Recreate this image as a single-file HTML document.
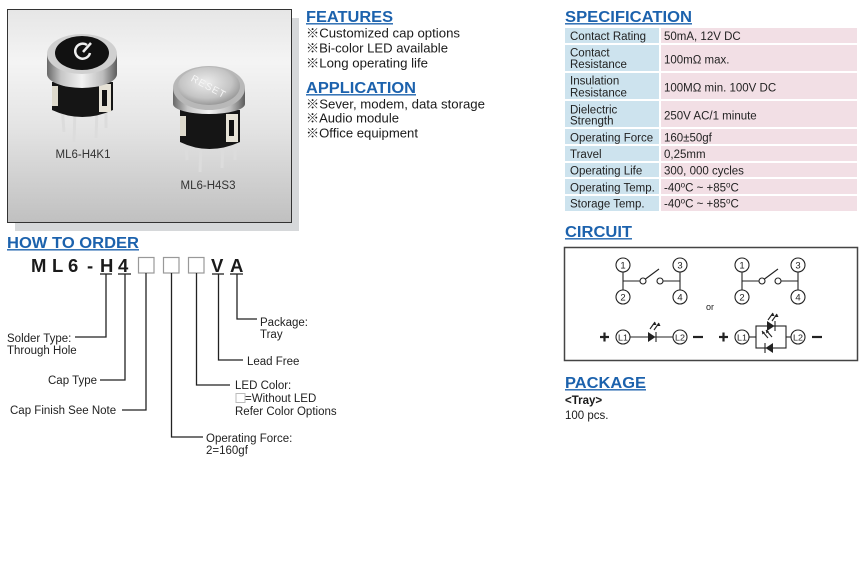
<!DOCTYPE html>
<html><head><meta charset="utf-8">
<style>
html,body{margin:0;padding:0;background:#fff;}
svg{display:block;}
text{font-family:"Liberation Sans","Noto Sans CJK SC",Arial,sans-serif;}
.h{font-weight:bold;font-size:15.5px;fill:#1c62ad;}
.b{font-size:12.5px;fill:#1a1a1a;}
.t{font-size:11.5px;fill:#222;}
.o{font-size:11.5px;fill:#222;}
.c{font-size:9.5px;fill:#222;}
</style></head>
<body>
<svg width="865" height="573" viewBox="0 0 865 573" xmlns="http://www.w3.org/2000/svg">
<defs>
<linearGradient id="pg" x1="0" y1="0" x2="0" y2="1">
<stop offset="0" stop-color="#e6e6e6"/><stop offset="0.25" stop-color="#f4f4f4"/><stop offset="0.55" stop-color="#e4e4e4"/><stop offset="1" stop-color="#c0c0c0"/>
</linearGradient>
<linearGradient id="sh" x1="0" y1="0" x2="1" y2="0">
<stop offset="0" stop-color="#686868"/><stop offset="0.2" stop-color="#c6c6c6"/><stop offset="0.5" stop-color="#f2f2f2"/><stop offset="0.8" stop-color="#bcbcbc"/><stop offset="1" stop-color="#5c5c5c"/>
</linearGradient>
<radialGradient id="ct" cx="0.45" cy="0.4" r="0.6">
<stop offset="0" stop-color="#ececec"/><stop offset="0.7" stop-color="#c4c4c4"/><stop offset="1" stop-color="#9a9a9a"/>
</radialGradient>
</defs>

<!-- image panel -->
<rect x="15" y="18" width="284" height="213" fill="#d6d8da"/>
<rect x="7.5" y="9.5" width="284" height="213" fill="url(#pg)" stroke="#333" stroke-width="1"/>

<!-- switch 1 -->
<g stroke="#dcdcdc" stroke-width="3">
<line x1="62" y1="105" x2="64" y2="132"/>
<line x1="75" y1="110" x2="74" y2="142"/>
<line x1="97" y1="110" x2="96" y2="138"/>
<line x1="106" y1="105" x2="106" y2="128"/>
</g>
<path d="M52 82 L113 82 L113 110 Q82 124 52 110 Z" fill="#151515"/>
<rect x="99" y="84" width="12" height="28" fill="#e6e2d6"/>
<rect x="102" y="90" width="5" height="16" fill="#111"/>
<rect x="52" y="86" width="6" height="20" fill="#ddd9cc"/>
<ellipse cx="82" cy="74" rx="35" ry="14" fill="url(#sh)"/>
<rect x="47" y="54" width="70" height="20" fill="url(#sh)"/>
<ellipse cx="82" cy="54" rx="35" ry="20" fill="#d0d0d0"/>
<ellipse cx="82" cy="53" rx="27" ry="17" fill="#111"/>
<path d="M87 45 A7.5 7.5 0 1 0 90 53" stroke="#eee" stroke-width="2.5" fill="none"/>
<line x1="83" y1="52" x2="91" y2="43" stroke="#eee" stroke-width="2.5"/>
<text x="83" y="158" text-anchor="middle" style="font-size:11.5px;fill:#333">ML6-H4K1</text>

<!-- switch 2 -->
<g stroke="#dcdcdc" stroke-width="3">
<line x1="186" y1="140" x2="187" y2="160"/>
<line x1="201" y1="145" x2="200" y2="172"/>
<line x1="223" y1="145" x2="222" y2="168"/>
<line x1="235" y1="138" x2="235" y2="160"/>
</g>
<path d="M180 110 L240 110 L240 142 Q209 156 180 142 Z" fill="#151515"/>
<rect x="226" y="114" width="12" height="28" fill="#e6e2d6"/>
<rect x="229" y="120" width="5" height="16" fill="#111"/>
<rect x="180" y="116" width="6" height="20" fill="#ddd9cc"/>
<ellipse cx="209" cy="104" rx="36" ry="10" fill="url(#sh)"/>
<rect x="173" y="88" width="72" height="16" fill="url(#sh)"/>
<ellipse cx="209" cy="88" rx="36" ry="22" fill="#b8b8b8"/>
<ellipse cx="209" cy="86" rx="31" ry="19" fill="url(#ct)"/>
<text x="209" y="90" text-anchor="middle" transform="rotate(28 209 86)" style="font-size:10px;fill:#f6f6f6;letter-spacing:1px">RESET</text>
<text x="208" y="189" text-anchor="middle" style="font-size:11.5px;fill:#333">ML6-H4S3</text>

<!-- FEATURES / APPLICATION -->
<text class="h" x="306" y="22" textLength="87" lengthAdjust="spacingAndGlyphs">FEATURES</text>
<line x1="306" y1="23.8" x2="393" y2="23.8" stroke="#1c62ad" stroke-width="1.3"/>
<text class="b" x="306" y="37.5" textLength="154" lengthAdjust="spacingAndGlyphs">※Customized cap options</text>
<text class="b" x="306" y="52.5" textLength="142" lengthAdjust="spacingAndGlyphs">※Bi-color LED available</text>
<text class="b" x="306" y="67.5" textLength="122" lengthAdjust="spacingAndGlyphs">※Long operating life</text>
<text class="h" x="306" y="93" textLength="110" lengthAdjust="spacingAndGlyphs">APPLICATION</text>
<line x1="306" y1="94.8" x2="416" y2="94.8" stroke="#1c62ad" stroke-width="1.3"/>
<text class="b" x="306" y="108.5" textLength="179" lengthAdjust="spacingAndGlyphs">※Sever, modem, data storage</text>
<text class="b" x="306" y="122.5" textLength="93" lengthAdjust="spacingAndGlyphs">※Audio module</text>
<text class="b" x="306" y="137.5" textLength="112" lengthAdjust="spacingAndGlyphs">※Office equipment</text>

<!-- SPECIFICATION -->
<text class="h" x="565" y="22" textLength="127" lengthAdjust="spacingAndGlyphs">SPECIFICATION</text>
<line x1="565" y1="23.8" x2="692" y2="23.8" stroke="#1c62ad" stroke-width="1.3"/>
<g fill="#cde3ee">
<rect x="565" y="28" width="94" height="15"/>
<rect x="565" y="45" width="94" height="26"/>
<rect x="565" y="73" width="94" height="26"/>
<rect x="565" y="101" width="94" height="26"/>
<rect x="565" y="129" width="94" height="15"/>
<rect x="565" y="146" width="94" height="15"/>
<rect x="565" y="163" width="94" height="14"/>
<rect x="565" y="179" width="94" height="15"/>
<rect x="565" y="196" width="94" height="15"/>
</g>
<g fill="#f2dfe5">
<rect x="661" y="28" width="196" height="15"/>
<rect x="661" y="45" width="196" height="26"/>
<rect x="661" y="73" width="196" height="26"/>
<rect x="661" y="101" width="196" height="26"/>
<rect x="661" y="129" width="196" height="15"/>
<rect x="661" y="146" width="196" height="15"/>
<rect x="661" y="163" width="196" height="14"/>
<rect x="661" y="179" width="196" height="15"/>
<rect x="661" y="196" width="196" height="15"/>
</g>
<g class="t">
<text class="t" x="570" y="40">Contact Rating</text>
<text class="t" x="570" y="56.7">Contact</text>
<text class="t" x="570" y="68">Resistance</text>
<text class="t" x="570" y="84.7">Insulation</text>
<text class="t" x="570" y="96.3">Resistance</text>
<text class="t" x="570" y="113.3">Dielectric</text>
<text class="t" x="570" y="124.7">Strength</text>
<text class="t" x="570" y="141.7">Operating Force</text>
<text class="t" x="570" y="158">Travel</text>
<text class="t" x="570" y="174.7">Operating Life</text>
<text class="t" x="570" y="191.3">Operating Temp.</text>
<text class="t" x="570" y="207.7">Storage Temp.</text>
<text class="t" x="664" y="40">50mA, 12V DC</text>
<text class="t" x="664" y="63.3">100mΩ max.</text>
<text class="t" x="664" y="91.3">100MΩ min. 100V DC</text>
<text class="t" x="664" y="119.7">250V AC/1 minute</text>
<text class="t" x="664" y="141.7">160±50gf</text>
<text class="t" x="664" y="158">0,25mm</text>
<text class="t" x="664" y="174.7">300, 000 cycles</text>
<text class="t" x="664" y="191.3">-40<tspan dy="-4" style="font-size:8px">o</tspan><tspan dy="4">C ~ +85</tspan><tspan dy="-4" style="font-size:8px">o</tspan><tspan dy="4">C</tspan></text>
<text class="t" x="664" y="207.7">-40<tspan dy="-4" style="font-size:8px">o</tspan><tspan dy="4">C ~ +85</tspan><tspan dy="-4" style="font-size:8px">o</tspan><tspan dy="4">C</tspan></text>
</g>

<!-- CIRCUIT -->
<text class="h" x="565" y="237" textLength="67" lengthAdjust="spacingAndGlyphs">CIRCUIT</text>
<line x1="565" y1="238.8" x2="632" y2="238.8" stroke="#1c62ad" stroke-width="1.3"/>
<rect x="564.5" y="247.5" width="293" height="113" fill="#fff" stroke="#444" stroke-width="1.5"/>
<g stroke="#222" stroke-width="1.1" fill="none">
<circle cx="623" cy="265" r="7"/><circle cx="623" cy="297" r="7"/>
<circle cx="680" cy="265" r="7"/><circle cx="680" cy="297" r="7"/>
<line x1="623" y1="272" x2="623" y2="290"/><line x1="680" y1="272" x2="680" y2="290"/>
<line x1="623" y1="281" x2="640" y2="281"/><circle cx="643" cy="281" r="3"/>
<circle cx="660" cy="281" r="3"/><line x1="663" y1="281" x2="680" y2="281"/>
<line x1="645.5" y1="279" x2="659" y2="269"/>
<circle cx="742" cy="265" r="7"/><circle cx="742" cy="297" r="7"/>
<circle cx="798" cy="265" r="7"/><circle cx="798" cy="297" r="7"/>
<line x1="742" y1="272" x2="742" y2="290"/><line x1="798" y1="272" x2="798" y2="290"/>
<line x1="742" y1="281" x2="759" y2="281"/><circle cx="762" cy="281" r="3"/>
<circle cx="778" cy="281" r="3"/><line x1="781" y1="281" x2="798" y2="281"/>
<line x1="764.5" y1="279" x2="778" y2="269"/>
<circle cx="623" cy="337" r="7"/><circle cx="680" cy="337" r="7"/>
<line x1="630" y1="337" x2="673" y2="337"/>
<line x1="656" y1="332" x2="656" y2="342"/>
<line x1="650" y1="329" x2="655" y2="322"/><line x1="654" y1="330" x2="659" y2="323"/>
<circle cx="742" cy="337" r="7"/><circle cx="798" cy="337" r="7"/>
<line x1="749" y1="337" x2="756" y2="337"/><line x1="786" y1="337" x2="791" y2="337"/>
<rect x="756" y="326" width="30" height="22"/>
<line x1="775" y1="321" x2="775" y2="331"/>
<line x1="765" y1="343" x2="765" y2="353"/>
<line x1="768" y1="320" x2="773" y2="313"/><line x1="772" y1="321" x2="777" y2="314"/>
<line x1="768" y1="338" x2="762" y2="331"/><line x1="772" y1="337" x2="766" y2="330"/>
</g>
<g fill="#222">
<path d="M648 332 L648 342 L655.5 337 Z"/>
<path d="M767 321 L767 331 L774.5 326 Z"/>
<path d="M773 343 L773 353 L765.5 348 Z"/>
<path d="M655 322 L653 325 L656.5 325 Z"/><path d="M659 323 L657 326 L660.5 326 Z"/>
<path d="M773 313 L771 316 L774.5 316 Z"/><path d="M777 314 L775 317 L778.5 317 Z"/>
<path d="M762 331 L762.3 334.5 L765 332.5 Z"/><path d="M766 330 L766.3 333.5 L769 331.5 Z"/>
</g>
<g class="c" text-anchor="middle">
<text class="c" x="623" y="268.5">1</text><text class="c" x="623" y="300.5">2</text>
<text class="c" x="680" y="268.5">3</text><text class="c" x="680" y="300.5">4</text>
<text class="c" x="742" y="268.5">1</text><text class="c" x="742" y="300.5">2</text>
<text class="c" x="798" y="268.5">3</text><text class="c" x="798" y="300.5">4</text>
<text x="623" y="340.5" style="font-size:8.5px;fill:#222" textLength="10" lengthAdjust="spacingAndGlyphs">L1</text>
<text x="680" y="340.5" style="font-size:8.5px;fill:#222" textLength="10" lengthAdjust="spacingAndGlyphs">L2</text>
<text x="742" y="340.5" style="font-size:8.5px;fill:#222" textLength="10" lengthAdjust="spacingAndGlyphs">L1</text>
<text x="798" y="340.5" style="font-size:8.5px;fill:#222" textLength="10" lengthAdjust="spacingAndGlyphs">L2</text>
</g>
<text x="710" y="310" text-anchor="middle" style="font-size:9px;fill:#222">or</text>
<g stroke="#222" stroke-width="2.2">
<line x1="600" y1="337" x2="609" y2="337"/><line x1="604.5" y1="332.5" x2="604.5" y2="341.5"/>
<line x1="719" y1="337" x2="728" y2="337"/><line x1="723.5" y1="332.5" x2="723.5" y2="341.5"/>
<line x1="693" y1="337" x2="703" y2="337"/>
<line x1="812" y1="337" x2="822" y2="337"/>
</g>

<!-- PACKAGE -->
<text class="h" x="565" y="388" textLength="81" lengthAdjust="spacingAndGlyphs">PACKAGE</text>
<line x1="565" y1="389.8" x2="646" y2="389.8" stroke="#1c62ad" stroke-width="1.3"/>
<text x="565" y="404" style="font-size:11.5px;font-weight:bold;fill:#1a1a1a">&lt;Tray&gt;</text>
<text x="565" y="419" style="font-size:11.5px;fill:#1a1a1a">100 pcs.</text>

<!-- HOW TO ORDER -->
<text class="h" x="7" y="248" textLength="132" lengthAdjust="spacingAndGlyphs">HOW TO ORDER</text>
<line x1="7" y1="249.8" x2="139" y2="249.8" stroke="#1c62ad" stroke-width="1.3"/>
<g style="font-size:18.5px;font-weight:bold;fill:#1a1a1a">
<text x="31" y="272">M</text><text x="52" y="272">L</text><text x="68" y="272">6</text>
<text x="87" y="272">-</text><text x="100" y="272">H</text><text x="118" y="272">4</text>
<text x="211" y="272">V</text><text x="230" y="272">A</text>
</g>
<g fill="#fff" stroke="#999" stroke-width="1.2">
<rect x="138.5" y="257.5" width="15.5" height="15.5"/>
<rect x="163.5" y="257.5" width="15.5" height="15.5"/>
<rect x="188.5" y="257.5" width="15.5" height="15.5"/>
</g>
<g stroke="#222" stroke-width="1.3" fill="none">
<line x1="100" y1="274" x2="112" y2="274"/><line x1="118" y1="274" x2="131" y2="274"/>
<line x1="212" y1="274" x2="224" y2="274"/><line x1="230" y1="274" x2="243" y2="274"/>
<polyline points="106,274 106,337 75,337"/>
<polyline points="125,274 125,380 100,380"/>
<polyline points="146,273 146,410 122,410"/>
<polyline points="171.5,273 171.5,437 203,437"/>
<polyline points="196.5,273 196.5,385 230,385"/>
<polyline points="218.5,274 218.5,360 243,360"/>
<polyline points="237,274 237,319 257,319"/>
</g>
<text class="o" x="7" y="342">Solder Type:</text>
<text class="o" x="7" y="354">Through Hole</text>
<text class="o" x="48" y="384">Cap Type</text>
<text class="o" x="10" y="414">Cap Finish See Note</text>
<text class="o" x="206" y="442">Operating Force:</text>
<text class="o" x="206" y="454">2=160gf</text>
<text class="o" x="235" y="389">LED Color:</text>
<rect x="236" y="393.5" width="9" height="9" fill="#fff" stroke="#bbb" stroke-width="1"/>
<text class="o" x="245" y="402">=Without LED</text>
<text class="o" x="235" y="415">Refer Color Options</text>
<text class="o" x="247" y="365">Lead Free</text>
<text class="o" x="260" y="326">Package:</text>
<text class="o" x="260" y="338">Tray</text>
</svg>
</body></html>
